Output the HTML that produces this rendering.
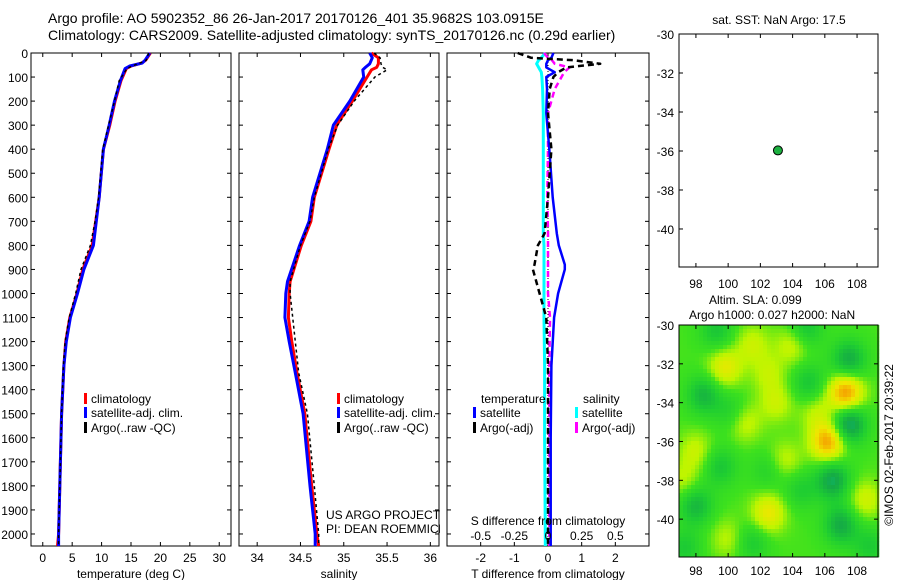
<!DOCTYPE html>
<html><head><meta charset="utf-8"><style>
html,body{margin:0;padding:0;background:#fff;}
svg{display:block;font-family:"Liberation Sans",sans-serif;}
text{fill:#000;}
</style></head><body>
<svg id="fig" width="900" height="580" viewBox="0 0 900 580" xmlns="http://www.w3.org/2000/svg">
<text x="48" y="23" font-size="14">Argo profile: AO 5902352_86 26-Jan-2017 20170126_401 35.9682S 103.0915E</text>
<text x="48" y="40" font-size="14">Climatology: CARS2009. Satellite-adjusted climatology: synTS_20170126.nc (0.29d earlier)</text>
<g id="layer"></g>
</svg>
<script>
// ---------- data ----------
const depthT = [0,30,42,54,65,115,200,300,400,600,700,800,900,1000,1100,1200,1300,1500,1800,2000,2050];
const tempClim = [18.3,17.5,16.8,15.0,14.2,13.3,12.3,11.4,10.3,9.6,9.0,8.4,6.8,5.8,4.6,3.9,3.6,3.2,2.9,2.7,2.5];
const tempSat  = [18.2,17.4,16.9,14.8,14.0,13.2,12.2,11.3,10.3,9.6,9.1,8.6,7.0,5.9,4.7,4.0,3.6,3.2,2.9,2.7,2.7];
const tempArgo = [18.0,17.6,16.5,15.2,14.3,13.0,12.2,11.2,10.2,9.5,8.9,8.1,6.5,5.6,4.5,3.8,3.5,3.2,2.9,2.7,2.7];
const depthS = [0,20,45,60,70,100,200,300,400,600,700,800,950,1000,1100,1200,1330,1500,1800,2000,2050];
const salClim = [35.32,35.40,35.40,35.38,35.32,35.27,35.10,34.92,34.83,34.66,34.62,34.51,34.38,34.37,34.36,34.40,34.46,34.55,34.63,34.69,34.71];
const salSat  = [35.30,35.33,35.30,35.25,35.22,35.23,35.07,34.88,34.81,34.64,34.60,34.49,34.35,34.33,34.32,34.37,34.44,34.53,34.61,34.67,34.67];
const salArgo = [35.35,35.42,35.43,35.45,35.50,35.36,35.12,34.93,34.82,34.66,34.61,34.50,34.38,34.38,34.41,34.44,34.48,34.58,34.66,34.71,34.71];
const depthD = [0,20,30,45,60,80,100,150,250,400,600,750,800,880,900,1000,1100,1300,1600,2000,2050];
const dTsat  = [0.16,0.1,0.0,-0.05,-0.05,0.2,-0.05,-0.03,-0.05,0.04,0.14,0.26,0.32,0.5,0.5,0.3,0.18,0.1,0.08,0.08,0.08];
const dTargo = [-0.9,-0.5,0.75,1.55,0.55,0.3,0.16,0.05,0.0,0.1,0.0,-0.1,-0.3,-0.4,-0.45,-0.25,-0.05,0.0,0.0,0.0,0.0];
const dSsat  = [-0.02,-0.05,-0.07,-0.085,-0.07,-0.05,-0.045,-0.04,-0.035,-0.035,-0.035,-0.035,-0.03,-0.03,-0.03,-0.03,-0.03,-0.025,-0.025,-0.02,-0.02];
const dSargo = [-0.03,0.0,0.03,0.05,0.16,0.12,0.10,0.05,0.0,0.0,-0.005,0.0,0.0,0.0,0.0,0.0,0.015,0.01,0.01,0.01,0.01];
const depthTicks = [0,100,200,300,400,500,600,700,800,900,1000,1100,1200,1300,1400,1500,1600,1700,1800,1900,2000];
const tempTicks = [0,5,10,15,20,25,30];
const salTicks = [34,34.5,35,35.5,36];
const salTickLabels = ["34","34.5","35","35.5","36"];
const dTTicks = [-2,-1,0,1,2];
const dSTicks = [-0.5,-0.25,0,0.25,0.5];
const dSTickLabels = ["-0.5","-0.25","0","0.25","0.5"];
const lonTicks = [98,100,102,104,106,108];
const latTicks = [-30,-32,-34,-36,-38,-40];
const argoLon = 103.09, argoLat = -35.97;
// SLA anomaly blobs: lon, lat, value
const blobLon = [99.8,102.5,106.2,107.3,101,103.5,98,104,101.5,108.5,100,103,105.5,102.5,97.2,98.5,107.5,106.5,107,107.5,98,104.8,99.3,105,99.5,97.3,108.8,100.2,102.5,104.5,101.5];
const blobLat = [-32.2,-39.7,-36,-33.5,-35,-37,-36.5,-31,-31,-39,-41,-34,-34.5,-32.5,-38,-33.6,-35.1,-38,-40.3,-31.8,-39.3,-30.2,-30.3,-33,-37.3,-41.5,-41.4,-34.5,-37.5,-38.5,-41.2];
const blobVal = [0.55,0.6,1.0,1.05,0.4,0.35,0.35,0.4,0.35,0.4,0.3,0.35,0.3,0.3,0.3,-0.6,-0.95,-0.8,-0.7,-0.7,-0.6,-0.5,-0.45,-0.45,-0.45,-0.4,-0.4,-0.35,-0.3,-0.35,-0.4];

// ---------- helpers ----------
const NS="http://www.w3.org/2000/svg";
const layer=document.getElementById('layer');
function mk(tag,attrs,parent){const e=document.createElementNS(NS,tag);for(const k in attrs)e.setAttribute(k,attrs[k]);(parent||layer).appendChild(e);return e;}
function txt(s,x,y,size,anchor,parent){const t=mk('text',{x:x,y:y,'font-size':size||12,'text-anchor':anchor||'start'},parent);t.textContent=s;return t;}

const Y0=53, Y1=546, D0=0, D1=2050;
const yD=d=>Y0+(d-D0)/(D1-D0)*(Y1-Y0);
function linX(a,b,px0,px1){return v=>px0+(v-a)/(b-a)*(px1-px0);}

function frame(x0,x1,name){
  const r=mk('rect',{x:x0,y:Y0,width:x1-x0,height:Y1-Y0,fill:'none',stroke:'#000','stroke-width':1});
  
  
  depthTicks.forEach(d=>{mk('line',{x1:x0,x2:x0+4,y1:yD(d),y2:yD(d),stroke:'#000'});mk('line',{x1:x1-4,x2:x1,y1:yD(d),y2:yD(d),stroke:'#000'});});
}
function profile(xs,ds,xf,color,w,dash,name){
  const p=mk('polyline',{points:xs.map((v,i)=>xf(v).toFixed(1)+','+yD(ds[i]).toFixed(1)).join(' '),fill:'none',stroke:color,'stroke-width':w,'stroke-dasharray':dash||'none','stroke-linejoin':'round'});
  
  
}
function legendRow(x,y,color,label,name){
  const g=mk('g',{});
  
  
  mk('rect',{x:x,y:y-10,width:3,height:11,fill:color},g);
  txt(label,x+7,y,12,'start',g);
}

// ---------- panel 1: temperature ----------
const xT=linX(-2,32,31,231);
frame(31,231,'temperature-panel');
depthTicks.forEach(d=>{const t=txt(String(d),28,yD(d)+5,12,'end');});
tempTicks.forEach(v=>{mk('line',{x1:xT(v),x2:xT(v),y1:Y0,y2:Y0+4,stroke:'#000'});mk('line',{x1:xT(v),x2:xT(v),y1:Y1-4,y2:Y1,stroke:'#000'});txt(String(v),xT(v),562,12,'middle');});
txt('temperature (deg C)',131,578,12,'middle');
profile(tempClim,depthT,xT,'#f00',3,null,'temp-climatology-line');
profile(tempSat,depthT,xT,'#00f',3,null,'temp-satellite-line');
profile(tempArgo,depthT,xT,'#000',1.5,'3,3','temp-argo-line');
legendRow(84,403,'#f00','climatology','legend-climatology');
legendRow(84,417,'#00f','satellite-adj. clim.','legend-satellite-adj');
legendRow(84,432,'#000','Argo(..raw -QC)','legend-argo');

// ---------- panel 2: salinity ----------
const xS=linX(33.79,36.1,239,439);
frame(239,439,'salinity-panel');
salTicks.forEach((v,i)=>{mk('line',{x1:xS(v),x2:xS(v),y1:Y0,y2:Y0+4,stroke:'#000'});mk('line',{x1:xS(v),x2:xS(v),y1:Y1-4,y2:Y1,stroke:'#000'});txt(salTickLabels[i],xS(v),562,12,'middle');});
txt('salinity',339,578,12,'middle');
profile(salClim,depthS,xS,'#f00',3,null,'sal-climatology-line');
profile(salSat,depthS,xS,'#00f',3,null,'sal-satellite-line');
profile(salArgo,depthS,xS,'#000',1.5,'3,3','sal-argo-line');
legendRow(337,403,'#f00','climatology','legend-climatology-2');
legendRow(337,417,'#00f','satellite-adj. clim.','legend-satellite-adj-2');
legendRow(337,432,'#000','Argo(..raw -QC)','legend-argo-2');
txt('US ARGO PROJECT',326,519,12);
txt('PI: DEAN ROEMMICH',326,533,12);

// ---------- panel 3: differences ----------
const xDT=linX(-3,3,447,649), xDS=linX(-0.75,0.75,447,649);
mk('rect',{x:440,y:Y0,width:209,height:Y1-Y0+30,fill:'#fff'});
frame(447,649,'difference-panel');
mk('line',{x1:xDT(0),x2:xDT(0),y1:Y0,y2:Y1,stroke:'#000','stroke-dasharray':'1,2'});
dTTicks.forEach(v=>{mk('line',{x1:xDT(v),x2:xDT(v),y1:Y0,y2:Y0+4,stroke:'#000'});mk('line',{x1:xDT(v),x2:xDT(v),y1:Y1-4,y2:Y1,stroke:'#000'});txt(String(v),xDT(v),562,12,'middle');});
profile(dSsat,depthD,xDS,'#0ff',3,null,'dsal-satellite-line');
profile(dSargo,depthD,xDS,'#f0f',2.5,'6,4','dsal-argo-line');
profile(dTsat,depthD,xDT,'#00f',2.5,null,'dtemp-satellite-line');
profile(dTargo,depthD,xDT,'#000',2.5,'6,4','dtemp-argo-line');
txt('T difference from climatology',548,578,12,'middle');
txt('S difference from climatology',548,525,12,'middle');
dSTicks.forEach((v,i)=>txt(dSTickLabels[i],xDS(v),540,12,'middle'));
txt('temperature',481,403,12);
txt('salinity',583,403,12);
legendRow(473,417,'#00f','satellite','legend-dtemp-satellite');
legendRow(473,432,'#000','Argo(-adj)','legend-dtemp-argo');
legendRow(575,417,'#0ff','satellite','legend-dsal-satellite');
legendRow(575,432,'#f0f','Argo(-adj)','legend-dsal-argo');

// ---------- maps ----------
const MX0=679,MX1=878;
const lonX=linX(96.95,109.3,MX0,MX1);
function mapAxes(top,bot,name,lblY){
  const latY=v=>top+(-30-v)/(11.95)*(bot-top);
  const r=mk('rect',{x:MX0,y:top,width:MX1-MX0,height:bot-top,fill:'none',stroke:'#000'});
  
  
  latTicks.forEach(v=>{mk('line',{x1:MX0,x2:MX0+4,y1:latY(v),y2:latY(v),stroke:'#000'});mk('line',{x1:MX1-4,x2:MX1,y1:latY(v),y2:latY(v),stroke:'#000'});txt(String(v),674,latY(v)+5,12,'end');});
  lonTicks.forEach(v=>{mk('line',{x1:lonX(v),x2:lonX(v),y1:top,y2:top+4,stroke:'#000'});mk('line',{x1:lonX(v),x2:lonX(v),y1:bot-4,y2:bot,stroke:'#000'});txt(String(v),lonX(v),lblY,12,'middle');});
  return latY;
}
// heatmap
const HT=325,HB=557;
function col(v){
  const stops=[[-1.1,[0,210,200]],[-0.6,[20,170,70]],[-0.25,[30,205,50]],[0.1,[60,225,30]],[0.4,[190,245,0]],[0.75,[240,230,0]],[1.1,[245,160,0]]];
  if(v<=stops[0][0])return stops[0][1];
  for(let i=1;i<stops.length;i++){if(v<=stops[i][0]){const a=stops[i-1],b=stops[i],t=(v-a[0])/(b[0]-a[0]);return a[1].map((c,k)=>Math.round(c+(b[1][k]-c)*t));}}
  return stops[stops.length-1][1];
}
const hm=mk('g',{});


const cw=4,ch=4;
for(let px=MX0;px<MX1;px+=cw){for(let py=HT;py<HB;py+=ch){
  const lon=96.95+(px+cw/2-MX0)/(MX1-MX0)*12.35, lat=-30-(py+ch/2-HT)/(HB-HT)*11.95;
  let v=0.12;
  for(let i=0;i<blobVal.length;i++){const dx=(lon-blobLon[i])/1.05,dy=(lat-blobLat[i])/1.0;v+=blobVal[i]*Math.exp(-(dx*dx+dy*dy));}
  const c=col(v);
  mk('rect',{x:px,y:py,width:cw+0.3,height:ch+0.3,fill:'rgb('+c.join(',')+')'},hm);
}}
const latYtop=mapAxes(34,267,'sst-map-frame',288);
mapAxes(HT,HB,'sla-map-frame',575);
const dot=mk('circle',{cx:lonX(argoLon),cy:latYtop(argoLat),r:4.5,fill:'#1db040',stroke:'#000','stroke-width':1});


txt('sat. SST: NaN Argo: 17.5',779,24,12,'middle');
txt('Altim. SLA: 0.099',709,304,12);
txt('Argo h1000: 0.027 h2000: NaN',689,319,12);
const ct=txt('©IMOS 02-Feb-2017 20:39:22',0,0,12,'middle');
ct.setAttribute('transform','translate(893,445) rotate(-90)');


</script>
</body></html>
